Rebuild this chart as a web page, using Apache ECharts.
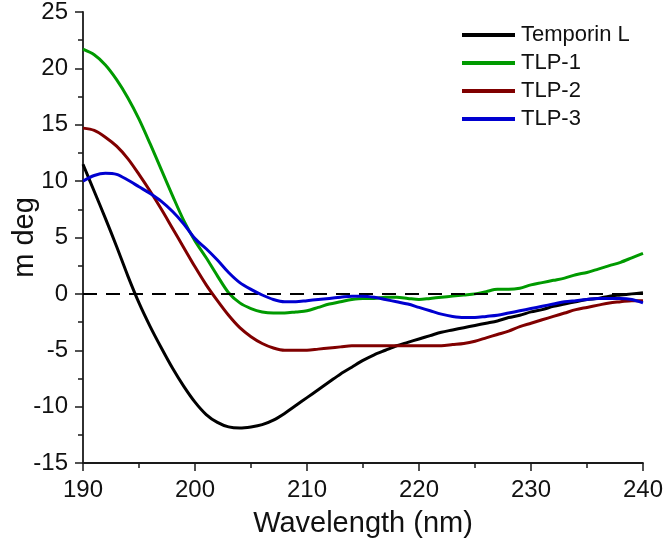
<!DOCTYPE html>
<html>
<head>
<meta charset="utf-8">
<script src="https://cdn.jsdelivr.net/npm/echarts@6/dist/echarts.min.js"></script>
<style>
html,body{margin:0;padding:0;background:#fff;}
#chart{width:666px;height:544px;}
</style>
</head>
<body>
<div id="chart"></div>
<script>
var wavelength = [190,191,192,193,194,195,196,197,198,199,200,201,202,203,204,205,206,207,208,209,210,211,212,213,214,215,216,217,218,219,220,221,222,223,224,225,226,227,228,229,230,231,232,233,234,235,236,237,238,239,240];
var temporinL = [11.5,9.1,6.7,4.2,1.6,-0.8,-2.9,-4.8,-6.6,-8.2,-9.6,-10.7,-11.4,-11.8,-11.9,-11.8,-11.6,-11.2,-10.6,-9.9,-9.2,-8.5,-7.8,-7.1,-6.5,-5.9,-5.4,-5.0,-4.6,-4.3,-4.0,-3.7,-3.4,-3.2,-3.0,-2.8,-2.6,-2.4,-2.1,-1.9,-1.6,-1.4,-1.1,-0.9,-0.7,-0.5,-0.4,-0.2,-0.1,0.0,0.1];
var tlp1 = [21.7,21.2,20.3,19.0,17.4,15.5,13.3,11.0,8.7,6.5,4.7,3.2,1.6,0.1,-0.8,-1.3,-1.6,-1.7,-1.7,-1.6,-1.5,-1.2,-0.9,-0.7,-0.5,-0.4,-0.4,-0.3,-0.3,-0.4,-0.5,-0.4,-0.3,-0.2,-0.1,0.0,0.2,0.4,0.4,0.5,0.8,1.0,1.2,1.4,1.7,1.9,2.2,2.5,2.8,3.2,3.6];
var tlp2 = [14.7,14.5,13.9,13.1,12.0,10.6,9.1,7.5,5.8,4.1,2.4,0.8,-0.6,-1.9,-3.0,-3.8,-4.4,-4.8,-5.0,-5.0,-5.0,-4.9,-4.8,-4.7,-4.6,-4.6,-4.6,-4.6,-4.6,-4.6,-4.6,-4.6,-4.6,-4.5,-4.4,-4.2,-3.9,-3.6,-3.3,-2.9,-2.6,-2.3,-2.0,-1.7,-1.4,-1.2,-1.0,-0.8,-0.7,-0.6,-0.6];
var tlp3 = [10.0,10.5,10.7,10.6,10.1,9.5,8.9,8.2,7.3,6.2,4.9,4.0,3.0,1.9,1.0,0.4,-0.1,-0.5,-0.7,-0.7,-0.6,-0.5,-0.4,-0.3,-0.2,-0.2,-0.3,-0.5,-0.7,-0.9,-1.2,-1.5,-1.8,-2.0,-2.1,-2.1,-2.0,-1.9,-1.7,-1.5,-1.3,-1.1,-0.9,-0.7,-0.6,-0.5,-0.4,-0.4,-0.4,-0.5,-0.8];
var seriesNames = ['Temporin L','TLP-1','TLP-2','TLP-3'];
var seriesColors = ['#000000','#009a00','#800000','#0000d0'];
var xTicks = [190,200,210,220,230,240];
var yTicks = [-15,-10,-5,0,5,10,15,20,25];

function pairs(ys){ return wavelength.map(function(x,i){ return [x, ys[i]]; }); }
var allData = [temporinL, tlp1, tlp2, tlp3];

var chart = echarts.init(document.getElementById('chart'), null, {renderer:'canvas'});
var font = 'Liberation Sans, Arial, sans-serif';
var axisColor = '#1a1a1a';
var series = seriesNames.map(function(n,i){
  var s = {
    name: n, type: 'line', data: pairs(allData[i]), showSymbol: false, smooth: 0.3,
    lineStyle: {color: seriesColors[i], width: 3}, itemStyle: {color: seriesColors[i]}, z: 3 + i
  };
  if (i === 0) {
    s.markLine = {
      silent: true, symbol: 'none', label: {show: false},
      lineStyle: {color: '#000', width: 2, type: [14, 9]},
      data: [{yAxis: 0}]
    };
  }
  return s;
});
chart.setOption({
  backgroundColor: '#fff',
  animation: false,
  grid: {left: 83, right: 21, top: 11, bottom: 81},
  legend: {
    orient: 'vertical', left: 457, top: 19, itemWidth: 53, itemHeight: 4, itemGap: 6,
    icon: 'rect',
    data: seriesNames,
    textStyle: {fontFamily: font, fontSize: 22, color: '#111', lineHeight: 22, padding: [0,0,0,1]}
  },
  xAxis: {
    type: 'value', position: 'bottom', min: xTicks[0], max: xTicks[xTicks.length-1], interval: 10,
    name: 'Wavelength (nm)', nameLocation: 'middle', nameGap: 46, nameMoveOverlap: false,
    nameTextStyle: {fontFamily: font, fontSize: 29, color: '#111'},
    axisLine: {show: true, onZero: false, lineStyle: {color: axisColor, width: 1.8}},
    axisTick: {show: true, inside: false, length: 8, lineStyle: {color: axisColor, width: 1.5}},
    minorTick: {show: true, splitNumber: 2, length: 5, lineStyle: {color: axisColor, width: 1.5}},
    axisLabel: {fontFamily: font, fontSize: 24, color: '#111', margin: 15},
    splitLine: {show: false}
  },
  yAxis: {
    type: 'value', min: yTicks[0], max: yTicks[yTicks.length-1], interval: 5,
    name: 'm deg', nameLocation: 'middle', nameGap: 44, nameRotate: 90, nameMoveOverlap: false,
    nameTextStyle: {fontFamily: font, fontSize: 29, color: '#111'},
    axisLine: {show: true, onZero: false, lineStyle: {color: axisColor, width: 1.8}},
    axisTick: {show: true, inside: false, length: 8, lineStyle: {color: axisColor, width: 1.5}},
    minorTick: {show: true, splitNumber: 2, length: 5, lineStyle: {color: axisColor, width: 1.5}},
    axisLabel: {fontFamily: font, fontSize: 24, color: '#111', margin: 15},
    splitLine: {show: false}
  },
  series: series
});
</script>
</body>
</html>
